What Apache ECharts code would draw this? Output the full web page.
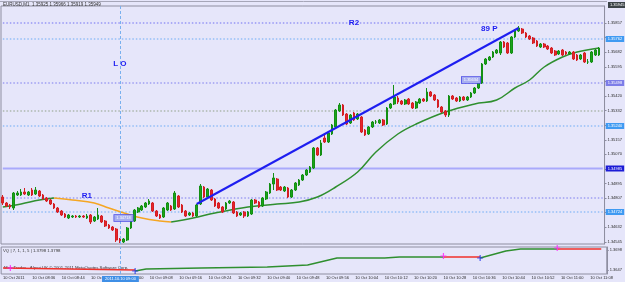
<!DOCTYPE html>
<html><head><meta charset="utf-8">
<script src="https://cdn.jsdelivr.net/npm/echarts@6/dist/echarts.min.js"></script>
<style>html,body{margin:0;padding:0;background:#e6e6fa}#c{width:625px;height:282px}</style>
</head><body><div id="c"></div>
<script>
// ---- categories: M1 bars starting 10 Oct 2011 08:28 (one spare slot at the right edge)
const startMinute = 8 * 60 + 28;
const times = [];
for (let k = 0; k < 165; k++) {
  const m = startMinute + k;
  times.push(String(Math.floor(m / 60)).padStart(2, '0') + ':' + String(m % 60).padStart(2, '0'));
}

// ---- EURUSD M1 candles
const open = [1.34814,1.34778,1.34766,1.34748,1.34826,1.34826,1.34844,1.34826,1.34856,1.34832,
1.34850,1.34826,1.34808,1.34796,1.34772,1.34748,1.34730,1.34712,1.34688,1.34694,
1.34700,1.34694,1.34700,1.34688,1.34706,1.34670,1.34682,1.34700,1.34670,1.34646,
1.34634,1.34622,1.34562,1.34544,1.34556,1.34628,1.34670,1.34724,1.34736,1.34754,
1.34772,1.34778,1.34730,1.34706,1.34694,1.34736,1.34760,1.34742,1.34820,1.34766,
1.34730,1.34706,1.34718,1.34700,1.34772,1.34874,1.34814,1.34856,1.34802,1.34778,
1.34754,1.34742,1.34778,1.34784,1.34724,1.34706,1.34724,1.34700,1.34712,1.34796,
1.34784,1.34760,1.34802,1.34838,1.34892,1.34922,1.34874,1.34850,1.34868,1.34814,
1.34856,1.34886,1.34916,1.34946,1.34964,1.34988,1.35108,1.35066,1.35168,1.35144,
1.35192,1.35234,1.35330,1.35366,1.35312,1.35258,1.35318,1.35282,1.35294,1.35216,
1.35192,1.35234,1.35264,1.35258,1.35276,1.35252,1.35348,1.35372,1.35408,1.35390,
1.35372,1.35402,1.35378,1.35348,1.35378,1.35402,1.35390,1.35444,1.35426,1.35396,
1.35354,1.35330,1.35306,1.35420,1.35408,1.35390,1.35414,1.35396,1.35414,1.35438,
1.35468,1.35498,1.35612,1.35636,1.35654,1.35678,1.35678,1.35744,1.35738,1.35678,
1.35774,1.35810,1.35822,1.35798,1.35780,1.35768,1.35750,1.35714,1.35732,1.35720,
1.35708,1.35690,1.35672,1.35696,1.35684,1.35672,1.35684,1.35666,1.35642,1.35678,
1.35624,1.35624,1.35666,1.35666];
const close = [1.34778,1.34760,1.34754,1.34838,1.34838,1.34844,1.34832,1.34844,1.34826,1.34856,
1.34820,1.34802,1.34790,1.34772,1.34748,1.34724,1.34706,1.34694,1.34706,1.34700,
1.34694,1.34700,1.34694,1.34700,1.34664,1.34694,1.34706,1.34664,1.34640,1.34628,
1.34616,1.34556,1.34544,1.34562,1.34628,1.34676,1.34736,1.34748,1.34760,1.34778,
1.34790,1.34730,1.34700,1.34688,1.34748,1.34778,1.34736,1.34838,1.34754,1.34724,
1.34700,1.34718,1.34700,1.34766,1.34880,1.34814,1.34862,1.34796,1.34760,1.34748,
1.34724,1.34778,1.34790,1.34718,1.34700,1.34718,1.34700,1.34724,1.34796,1.34778,
1.34754,1.34808,1.34844,1.34892,1.34928,1.34856,1.34856,1.34874,1.34814,1.34856,
1.34898,1.34916,1.34946,1.34976,1.34994,1.35108,1.35066,1.35138,1.35144,1.35198,
1.35246,1.35336,1.35366,1.35306,1.35252,1.35306,1.35276,1.35312,1.35204,1.35186,
1.35234,1.35264,1.35264,1.35276,1.35246,1.35348,1.35372,1.35414,1.35384,1.35372,
1.35396,1.35372,1.35348,1.35384,1.35402,1.35390,1.35444,1.35420,1.35396,1.35354,
1.35324,1.35306,1.35420,1.35402,1.35390,1.35414,1.35396,1.35414,1.35438,1.35468,
1.35504,1.35612,1.35642,1.35654,1.35684,1.35696,1.35744,1.35714,1.35678,1.35774,
1.35816,1.35828,1.35798,1.35774,1.35762,1.35738,1.35720,1.35732,1.35714,1.35702,
1.35678,1.35666,1.35690,1.35666,1.35672,1.35684,1.35642,1.35636,1.35666,1.35624,
1.35624,1.35684,1.35696,1.35708];
const high = [1.34826,1.34784,1.34772,1.34844,1.34850,1.34862,1.34868,1.34850,1.34868,1.34874,
1.34856,1.34832,1.34814,1.34802,1.34778,1.34754,1.34736,1.34718,1.34712,1.34706,
1.34706,1.34706,1.34706,1.34712,1.34712,1.34700,1.34748,1.34706,1.34676,1.34652,
1.34640,1.34628,1.34568,1.34568,1.34634,1.34682,1.34742,1.34754,1.34766,1.34784,
1.34802,1.34784,1.34736,1.34712,1.34754,1.34784,1.34766,1.34850,1.34826,1.34772,
1.34736,1.34724,1.34724,1.34772,1.34892,1.34880,1.34868,1.34862,1.34808,1.34784,
1.34760,1.34784,1.34796,1.34790,1.34730,1.34724,1.34730,1.34730,1.34802,1.34802,
1.34790,1.34814,1.34850,1.34898,1.34958,1.34928,1.34880,1.34880,1.34874,1.34862,
1.34904,1.34922,1.34952,1.34982,1.35000,1.35114,1.35114,1.35156,1.35186,1.35204,
1.35252,1.35342,1.35378,1.35372,1.35318,1.35312,1.35324,1.35318,1.35300,1.35222,
1.35240,1.35270,1.35276,1.35282,1.35282,1.35354,1.35378,1.35486,1.35420,1.35396,
1.35402,1.35408,1.35384,1.35390,1.35408,1.35408,1.35468,1.35450,1.35432,1.35402,
1.35360,1.35336,1.35426,1.35426,1.35414,1.35420,1.35420,1.35420,1.35444,1.35474,
1.35510,1.35618,1.35648,1.35660,1.35690,1.35702,1.35750,1.35750,1.35744,1.35780,
1.35822,1.35840,1.35828,1.35804,1.35786,1.35774,1.35756,1.35738,1.35738,1.35726,
1.35714,1.35696,1.35696,1.35702,1.35690,1.35690,1.35690,1.35672,1.35672,1.35684,
1.35642,1.35690,1.35702,1.35714];
const low = [1.34766,1.34754,1.34742,1.34736,1.34820,1.34820,1.34826,1.34820,1.34820,1.34826,
1.34814,1.34796,1.34784,1.34766,1.34742,1.34718,1.34700,1.34688,1.34682,1.34688,
1.34688,1.34688,1.34688,1.34682,1.34652,1.34664,1.34676,1.34658,1.34634,1.34622,
1.34610,1.34544,1.34538,1.34538,1.34550,1.34622,1.34664,1.34718,1.34730,1.34748,
1.34766,1.34724,1.34694,1.34682,1.34688,1.34730,1.34730,1.34736,1.34748,1.34718,
1.34694,1.34700,1.34694,1.34694,1.34766,1.34808,1.34808,1.34790,1.34754,1.34742,
1.34718,1.34736,1.34772,1.34712,1.34694,1.34700,1.34688,1.34694,1.34706,1.34772,
1.34748,1.34754,1.34796,1.34832,1.34856,1.34850,1.34850,1.34844,1.34808,1.34808,
1.34850,1.34880,1.34910,1.34940,1.34958,1.34982,1.35060,1.35060,1.35138,1.35138,
1.35186,1.35228,1.35324,1.35300,1.35246,1.35252,1.35270,1.35276,1.35198,1.35180,
1.35186,1.35228,1.35252,1.35252,1.35240,1.35246,1.35342,1.35366,1.35372,1.35366,
1.35366,1.35366,1.35342,1.35342,1.35372,1.35384,1.35384,1.35414,1.35390,1.35348,
1.35318,1.35294,1.35294,1.35396,1.35384,1.35384,1.35390,1.35390,1.35408,1.35432,
1.35462,1.35492,1.35606,1.35630,1.35648,1.35672,1.35666,1.35708,1.35672,1.35672,
1.35768,1.35804,1.35792,1.35768,1.35756,1.35732,1.35714,1.35708,1.35708,1.35696,
1.35672,1.35660,1.35666,1.35660,1.35666,1.35666,1.35636,1.35630,1.35636,1.35618,
1.35612,1.35618,1.35660,1.35660];

// ---- moving average (read at key bars): green / orange / green
const maAIdx = [0, 5, 10, 14];
const maAVal = [1.34754, 1.34772, 1.34796, 1.34808];
const maOIdx = [14, 19, 25, 29, 34, 38, 43, 46];
const maOVal = [1.34808, 1.34796, 1.34778, 1.34748, 1.34712, 1.34688, 1.34670, 1.34664];
const maBIdx = [46, 52, 58, 67, 75, 81, 86, 91, 97, 102, 108, 113, 121, 129, 135, 140, 144, 148, 153, 157, 163];
const maBVal = [1.34664, 1.34688, 1.34718, 1.34754, 1.34772, 1.34784, 1.34814, 1.34874, 1.34964, 1.35084, 1.35192,
                1.35252, 1.35324, 1.35372, 1.35396, 1.35468, 1.35516, 1.35594, 1.35654, 1.35684, 1.35708];

// ---- price axis tick labels
const priceTicks = [1.35857, 1.35770, 1.35682, 1.35595, 1.35507, 1.35420, 1.35332, 1.35245,
                    1.35157, 1.35070, 1.34982, 1.34895, 1.34807, 1.34720, 1.34632, 1.34545];

// ---- horizontal levels (price) and their span in bars
const levelValues = [1.35858, 1.35762, 1.35498, 1.35330, 1.35240, 1.34985, 1.34808, 1.34724];
const levelSpan = [0, 164];
const levelColors = ['#6f6ff2', '#6aaaf5', '#7a7aee', '#8f9f86', '#6aaaf5', '#a9a9fb', '#7a7aee', '#6aaaf5'];
const levelSolid  = [false, false, false, false, false, true, false, false];
const levelTagBg  = [null, '#3f9af2', '#7d7de8', null, '#3f9af2', '#1c1cd6', null, '#3f9af2'];

// ---- trend line (bar index, price)
const trendBars = [53, 141];
const trendPrices = [1.34772, 1.35828];

// ---- text objects
const noteText = ['L O', 'R2', 'R1', '89 P'];
const noteBar = [32, 96, 23, 133];
const notePrice = [1.35612, 1.35858, 1.34820, 1.35822];
const boxText = ['1.34718', '1.35634'];
const boxBar = [33, 128];
const boxPrice = [1.34688, 1.35516];

// ---- VQ indicator
const vqTicks = [1.3647, 1.3698];
const vqR1Idx = [0, 36], vqR1Val = [1.36523, 1.36472];
const vqG1Idx = [36, 39, 54, 72, 83, 91, 104, 108, 120];
const vqG1Val = [1.36447, 1.36498, 1.36523, 1.36549, 1.36600, 1.36779, 1.36779, 1.36804, 1.36804];
const vqR2Idx = [120, 130], vqR2Val = [1.36804, 1.36804];
const vqG2Idx = [130, 137, 141, 151], vqG2Val = [1.36779, 1.36958, 1.37009, 1.37009];
const vqR3Idx = [151, 163], vqR3Val = [1.37009, 1.37009];
const magIdx = [2, 120, 151], magVal = [1.36523, 1.36830, 1.37034];
const bluIdx = [36, 130], bluVal = [1.36447, 1.36779];

const FONT = 'Liberation Sans';
const pairs = (a, b) => a.map((k, j) => [k, b[j]]);
const candles = open.map((o, k) => [o, close[k], low[k], high[k]]);

const levelSeries = levelValues.map((v, k) => ({
  type: 'line', xAxisIndex: 0, yAxisIndex: 0, silent: true, symbol: 'none', z: 1,
  data: [[levelSpan[0], v], [levelSpan[1], v]],
  lineStyle: { color: levelColors[k], width: levelSolid[k] ? 2 : 1, type: levelSolid[k] ? 'solid' : [1.5, 2] },
  endLabel: levelTagBg[k] ? { show: true, distance: 3, formatter: v.toFixed(5),
    backgroundColor: levelTagBg[k], color: '#fff', fontSize: 4, padding: [1, 2], fontFamily: FONT } : { show: false }
}));

const plusSym = 'path://M4,0H6V4H10V6H6V10H4V6H0V4H4Z';

const option = {
  backgroundColor: '#e6e6fa',
  animation: false,
  textStyle: { fontFamily: FONT },
  grid: [
    { left: 1, right: 18, top: 6, height: 238, show: true, borderColor: '#8e8ea0', borderWidth: 1 },
    { left: 1, right: 18, top: 247, height: 27, show: true, borderColor: '#8e8ea0', borderWidth: 1 }
  ],
  xAxis: [
    { type: 'category', gridIndex: 0, data: times, boundaryGap: true, axisLine: { show: false },
      axisTick: { show: false }, axisLabel: { show: false }, splitLine: { show: false } },
    { type: 'category', gridIndex: 1, data: times, boundaryGap: true, axisLine: { show: false },
      axisTick: { show: false }, splitLine: { show: false },
      axisLabel: { interval: 7, align: 'left', fontSize: 4, color: '#2a2a2a', margin: 2, fontFamily: FONT,
        formatter: (v, k) => k === 0 ? '10 Oct 2011' : '10 Oct ' + v } }
  ],
  yAxis: [
    { type: 'value', gridIndex: 0, position: 'right', min: 1.34532, max: 1.3596, splitLine: { show: false },
      axisLine: { show: true, lineStyle: { color: '#8e8ea0' } },
      axisTick: { show: true, length: 2, customValues: priceTicks, lineStyle: { color: '#8e8ea0' } },
      axisLabel: { customValues: priceTicks, fontSize: 4, color: '#2a2a2a', margin: 3, fontFamily: FONT,
        formatter: v => v.toFixed(5) } },
    { type: 'value', gridIndex: 1, position: 'right', min: 1.3637, max: 1.3706, splitLine: { show: false },
      axisLine: { show: true, lineStyle: { color: '#8e8ea0' } },
      axisTick: { show: true, length: 2, customValues: vqTicks, lineStyle: { color: '#8e8ea0' } },
      axisLabel: { customValues: vqTicks, fontSize: 4, color: '#2a2a2a', margin: 3, fontFamily: FONT,
        formatter: v => v.toFixed(4) } }
  ],
  series: levelSeries.concat([
    { type: 'line', xAxisIndex: 0, yAxisIndex: 0, data: pairs(maBIdx, maBVal), smooth: 0.4, symbol: 'none',
      lineStyle: { color: '#2f8f2f', width: 1.5 }, z: 3,
      markLine: { symbol: ['none', 'none'], silent: true, animation: false, label: { show: false },
        data: [ { xAxis: '09:00', lineStyle: { color: '#7ab0ee', type: [3, 2], width: 1 }, label: { show: false } } ] } },
    { type: 'candlestick', xAxisIndex: 0, yAxisIndex: 0, data: candles, barWidth: 2.2, clip: false, z: 4,
      itemStyle: { color: '#1aa51a', color0: '#e5262b', borderColor: '#138f13', borderColor0: '#d41e23', borderWidth: 1 },
      markLine: { symbol: ['none', 'none'], silent: true, animation: false, label: { show: false },
        data: [
          [ { coord: [trendBars[0], trendPrices[0]] }, { coord: [trendBars[1], trendPrices[1]],
              lineStyle: { color: '#1e1ef0', width: 2, type: 'solid' } } ]
        ] },
      markPoint: { silent: true, animation: false,
        data: noteText.map((t, k) => ({ name: t, coord: [noteBar[k], notePrice[k]], symbol: 'rect', symbolSize: 1,
          itemStyle: { color: 'rgba(0,0,0,0)' },
          label: { show: true, position: 'inside', formatter: t, fontSize: 8, fontWeight: 'bold', color: '#1d1df2', fontFamily: FONT } }))
          .concat(boxText.map((t, k) => ({ name: t, coord: [boxBar[k], boxPrice[k]], symbol: 'rect', symbolSize: 1,
          itemStyle: { color: 'rgba(0,0,0,0)' },
          label: { show: true, position: 'inside', formatter: t, fontSize: 4, color: '#fff', backgroundColor: '#a7aef0',
            borderColor: '#4b4be6', borderWidth: 0.8, padding: [1, 2], fontFamily: FONT } }))) } },
    { type: 'line', xAxisIndex: 0, yAxisIndex: 0, data: pairs(maAIdx, maAVal), smooth: 0.4, symbol: 'none',
      lineStyle: { color: '#2f8f2f', width: 1.5 }, z: 3 },
    { type: 'line', xAxisIndex: 0, yAxisIndex: 0, data: pairs(maOIdx, maOVal), smooth: 0.4, symbol: 'none',
      lineStyle: { color: '#f5a623', width: 1.5 }, z: 3 },
    { type: 'line', xAxisIndex: 1, yAxisIndex: 1, data: pairs(vqR1Idx, vqR1Val), symbol: 'none',
      lineStyle: { color: '#f0302a', width: 1.5 },
      markLine: { symbol: ['none', 'none'], silent: true, animation: false,
        data: [ { xAxis: '09:00', lineStyle: { color: '#7ab0ee', type: [3, 2], width: 1 },
          label: { show: true, position: 'start', distance: 2, formatter: '2011.10.10 09:00', fontSize: 4,
            color: '#fff', backgroundColor: '#3f8fe6', padding: [1, 3], fontFamily: FONT } } ] } },
    { type: 'line', xAxisIndex: 1, yAxisIndex: 1, data: pairs(vqG1Idx, vqG1Val), symbol: 'none',
      lineStyle: { color: '#2f8f2f', width: 1.5 } },
    { type: 'line', xAxisIndex: 1, yAxisIndex: 1, data: pairs(vqR2Idx, vqR2Val), symbol: 'none',
      lineStyle: { color: '#f0302a', width: 1.5 } },
    { type: 'line', xAxisIndex: 1, yAxisIndex: 1, data: pairs(vqG2Idx, vqG2Val), symbol: 'none',
      lineStyle: { color: '#2f8f2f', width: 1.5 } },
    { type: 'line', xAxisIndex: 1, yAxisIndex: 1, data: pairs(vqR3Idx, vqR3Val), symbol: 'none',
      lineStyle: { color: '#f0302a', width: 1.5 } },
    { type: 'scatter', xAxisIndex: 1, yAxisIndex: 1, data: pairs(magIdx, magVal), symbol: plusSym, symbolSize: 6,
      itemStyle: { color: '#ff22ff' }, z: 5 },
    { type: 'scatter', xAxisIndex: 1, yAxisIndex: 1, data: pairs(bluIdx, bluVal), symbol: plusSym, symbolSize: 6,
      itemStyle: { color: '#2233ee' }, z: 5 }
  ]),
  graphic: [
    { type: 'line', shape: { x1: 0, y1: 1.5, x2: 607, y2: 1.5 }, style: { stroke: '#a6a6b8', lineWidth: 1 } },
    { type: 'text', left: 3, top: 2, style: { text: 'EURUSD,M1  1.35925 1.35966 1.35919 1.35949', fontSize: 4.5,
      fill: '#333', fontFamily: FONT } },
    { type: 'text', left: 608, top: 2, style: { text: '1.35945', fontSize: 4, fill: '#fff', backgroundColor: '#3c4448',
      padding: [1, 2], fontFamily: FONT } },
    { type: 'text', left: 3, top: 249, style: { text: 'VQ | 7, 1, 1, 5 | 1.3798 1.3798', fontSize: 4.3,
      fill: '#333', fontFamily: FONT } },
    { type: 'text', left: 4, top: 266, style: { text: 'MetaTrader - Alpari UK \u00a9 2001-2011 MetaQuotes Software Corp.',
      fontSize: 4.3, fill: '#333', fontFamily: FONT } }
  ]
};
const chart = echarts.init(document.getElementById('c'), null, { renderer: 'canvas' });
chart.setOption(option);
</script></body></html>
